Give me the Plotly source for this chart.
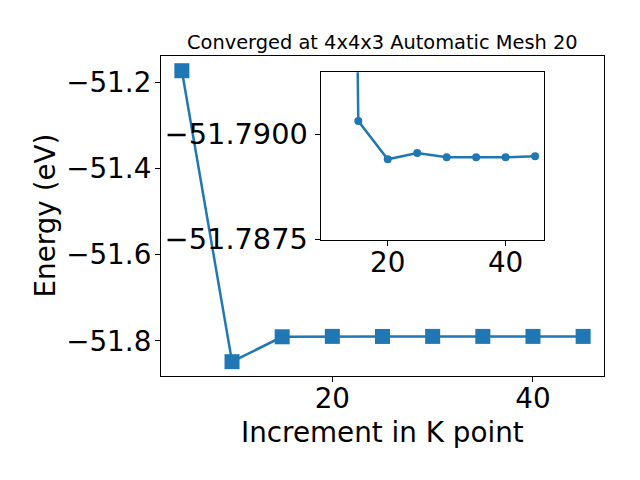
import plotly.graph_objects as go

kpoints = [5, 10, 15, 20, 25, 30, 35, 40, 45]
energy = [-51.1738, -51.848, -51.79031, -51.78940, -51.78955, -51.78945, -51.78945, -51.78945, -51.78947]

inset_k = kpoints[1:]
inset_e = energy[1:]

main_yticks = [-51.8, -51.6, -51.4, -51.2]
main_yticklabels = ["\u221251.8", "\u221251.6", "\u221251.4", "\u221251.2"]
main_xticks = [20, 40]
inset_yticks = [-51.7900, -51.7875]
inset_yticklabels = ["\u221251.7900", "\u221251.7875"]
inset_xticks = [20, 40]

title_text = "Converged at 4x4x3 Automatic Mesh 20"
xlabel = "Increment in K point"
ylabel = "Energy (eV)"

BLUE = "#1f77b4"
FONT = "DejaVu Sans"
TICKSIZE = 27.8

fig = go.Figure()
fig.add_trace(go.Scatter(x=kpoints, y=energy, mode="lines+markers",
                         line=dict(color=BLUE, width=2.5),
                         marker=dict(symbol="square", size=15, color=BLUE),
                         xaxis="x", yaxis="y", showlegend=False))
fig.add_trace(go.Scatter(x=inset_k, y=inset_e, mode="lines+markers",
                         line=dict(color=BLUE, width=2.5),
                         marker=dict(symbol="circle", size=8, color=BLUE),
                         xaxis="x2", yaxis="y2", showlegend=False))

axis_common = dict(showline=True, linecolor="black", linewidth=1.2, mirror=True,
                   ticks="outside", ticklen=5, tickwidth=1.2, tickcolor="black",
                   showgrid=False, zeroline=False)

def tf(size):
    return dict(family=FONT, size=size, color="black")

fig.update_layout(
    width=640, height=480,
    margin=dict(l=153, r=44, t=48, b=112),
    paper_bgcolor="white", plot_bgcolor="white",
    font=dict(family=FONT, color="black"),
    xaxis=dict(domain=[0, 1], range=[2.92, 47.08], tickvals=main_xticks,
               ticktext=[str(v) for v in main_xticks], anchor="y",
               ticklabelstandoff=-7, tickfont=tf(TICKSIZE), **axis_common),
    yaxis=dict(domain=[0, 1], range=[-51.8812, -51.1397], tickvals=main_yticks,
               ticktext=main_yticklabels, anchor="x",
               ticklabelstandoff=-2, tickfont=tf(TICKSIZE), **axis_common),
    xaxis2=dict(domain=[0.3605, 0.865], range=[8.62, 46.55], tickvals=inset_xticks,
                ticktext=[str(v) for v in inset_xticks], anchor="y2",
                ticklabelstandoff=-7, tickfont=tf(TICKSIZE), **axis_common),
    yaxis2=dict(domain=[0.425, 0.949], range=[-51.78748, -51.79147], tickvals=inset_yticks,
                ticktext=inset_yticklabels, anchor="x2",
                ticklabelstandoff=1, tickfont=tf(28.8), **axis_common),
    annotations=[
        dict(text=title_text, xref="paper", yref="paper", x=0.5, y=1, xanchor="center",
             yanchor="bottom", yshift=0, showarrow=False,
             font=dict(family=FONT, size=19.4, color="black")),
        dict(text=xlabel, xref="paper", yref="paper", x=0.5, y=0, xanchor="center",
             yanchor="top", yshift=-38, showarrow=False,
             font=dict(family=FONT, size=27.8, color="black")),
        dict(text=ylabel, xref="paper", yref="paper", x=0, y=0.5, xanchor="right",
             yanchor="middle", xshift=-98, textangle=-90, showarrow=False,
             font=dict(family=FONT, size=27.8, color="black")),
    ],
)

fig.write_html("out.html")
